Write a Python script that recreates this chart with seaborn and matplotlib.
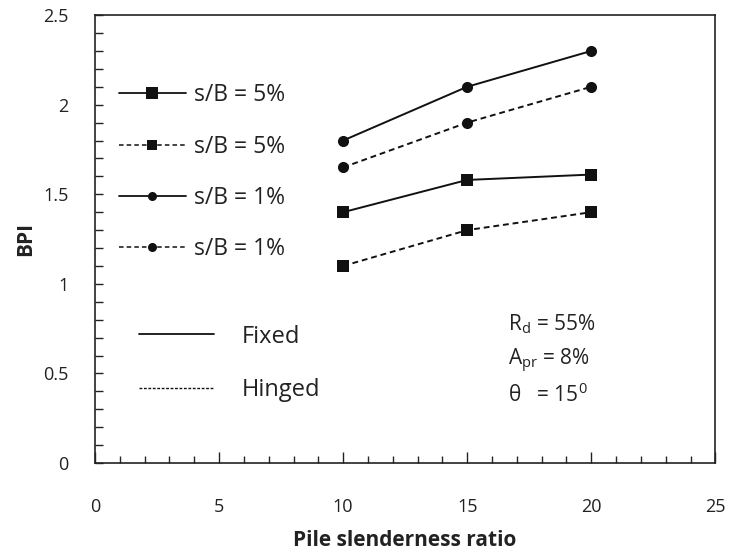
import matplotlib
matplotlib.use("Agg")
import matplotlib.pyplot as plt
from matplotlib.lines import Line2D
from matplotlib.ticker import MultipleLocator
import seaborn as sns
import pandas as pd

# Pile slenderness ratio (L/D) and bearing pressure improvement values
slenderness = [10, 15, 20]
bpi_5_fixed = [1.40, 1.58, 1.61]
bpi_5_hinged = [1.10, 1.30, 1.40]
bpi_1_fixed = [1.80, 2.10, 2.30]
bpi_1_hinged = [1.65, 1.90, 2.10]

series_labels = ["s/B = 5%", "s/B = 5%", "s/B = 1%", "s/B = 1%"]
support_labels = ["Fixed", "Hinged"]
x_ticks = [0, 5, 10, 15, 20, 25]
y_ticks = [0, 0.5, 1, 1.5, 2, 2.5]

sns.set_theme(style="white")
plt.rcParams["font.family"] = ["Open Sans", "DejaVu Sans"]
plt.rcParams["mathtext.fontset"] = "custom"
plt.rcParams["mathtext.rm"] = "Open Sans"
plt.rcParams["mathtext.it"] = "Open Sans:italic"

INK = "#111111"
TXT = "#222222"

fig = plt.figure(figsize=(7.29, 5.53), dpi=100)
ax = fig.add_axes([0.1303, 0.1627, 0.851, 0.810])

dashed = (0, (3, 2))
styles = [
    (bpi_5_fixed, "s", "-", 8.5),
    (bpi_5_hinged, "s", dashed, 8.5),
    (bpi_1_fixed, "o", "-", 8),
    (bpi_1_hinged, "o", dashed, 8),
]

for values, marker, ls, ms in styles:
    df = pd.DataFrame({"ratio": slenderness, "BPI": values})
    sns.lineplot(data=df, x="ratio", y="BPI", ax=ax, color=INK,
                 marker=marker, markersize=ms, markeredgewidth=0,
                 linestyle=ls, linewidth=1.4, legend=False)

ax.set_xlim(0, 25)
ax.set_ylim(0, 2.5)
ax.set_xticks(x_ticks)
ax.set_yticks(y_ticks)
ax.set_xticklabels([str(t) for t in x_ticks])
ax.set_yticklabels([f"{t:g}" for t in y_ticks])
ax.xaxis.set_minor_locator(MultipleLocator(1))
ax.yaxis.set_minor_locator(MultipleLocator(0.1))

ax.tick_params(axis="x", which="major", direction="in", length=8, width=1,
               pad=25, labelsize=13, colors=TXT, bottom=True)
ax.tick_params(axis="x", which="minor", direction="in", length=5, width=1,
               bottom=True)
ax.tick_params(axis="y", which="both", direction="in", length=6, width=1,
               pad=19, labelsize=13, colors=TXT, left=True)

for sp in ax.spines.values():
    sp.set_color(TXT)
    sp.set_linewidth(1.2)

ax.set_xlabel("Pile slenderness ratio", fontsize=15, fontweight="bold",
              color=TXT, labelpad=10.5)
ax.set_ylabel("BPI", fontsize=15, fontweight="bold", color=TXT,
              labelpad=5)

# Series legend (marker = settlement level, line style = support condition)
series_handles = [
    Line2D([], [], color=INK, marker="s", markersize=9, linestyle="-",
           linewidth=1.3, markeredgewidth=0),
    Line2D([], [], color=INK, marker="s", markersize=7.5, linestyle=dashed,
           linewidth=1.1, markeredgewidth=0),
    Line2D([], [], color=INK, marker="o", markersize=6.5, linestyle="-",
           linewidth=1.3, markeredgewidth=0),
    Line2D([], [], color=INK, marker="o", markersize=6.5, linestyle=dashed,
           linewidth=1.1, markeredgewidth=0),
]
leg1 = ax.legend(series_handles, series_labels, loc="upper left",
                 bbox_to_anchor=(0.024, 0.868), frameon=False, fontsize=16.5,
                 handlelength=2.9, handletextpad=0.35, labelspacing=1.19,
                 borderaxespad=0, labelcolor=TXT)
ax.add_artist(leg1)

support_handles = [
    Line2D([], [], color=INK, linestyle="-", linewidth=1.3),
    Line2D([], [], color=INK, linestyle=(0, (2, 1.2)), linewidth=1.0),
]
ax.legend(support_handles, support_labels, loc="upper left",
          bbox_to_anchor=(0.055, 0.33), frameon=False, fontsize=17,
          handlelength=3.2, handletextpad=1.19, labelspacing=1.25,
          borderaxespad=0, labelcolor=TXT)

# Test conditions
ax.text(0.665, 0.310, r"R$_\mathrm{d}$ = 55%", transform=ax.transAxes,
        fontsize=15, color=TXT, va="center")
ax.text(0.665, 0.229, r"A$_\mathrm{pr}$ = 8%", transform=ax.transAxes,
        fontsize=15, color=TXT, va="center")
ax.text(0.665, 0.152, r"θ   = 15$^\mathrm{0}$", transform=ax.transAxes,
        fontsize=15, color=TXT, va="center")

fig.savefig("out.png", dpi=100)
